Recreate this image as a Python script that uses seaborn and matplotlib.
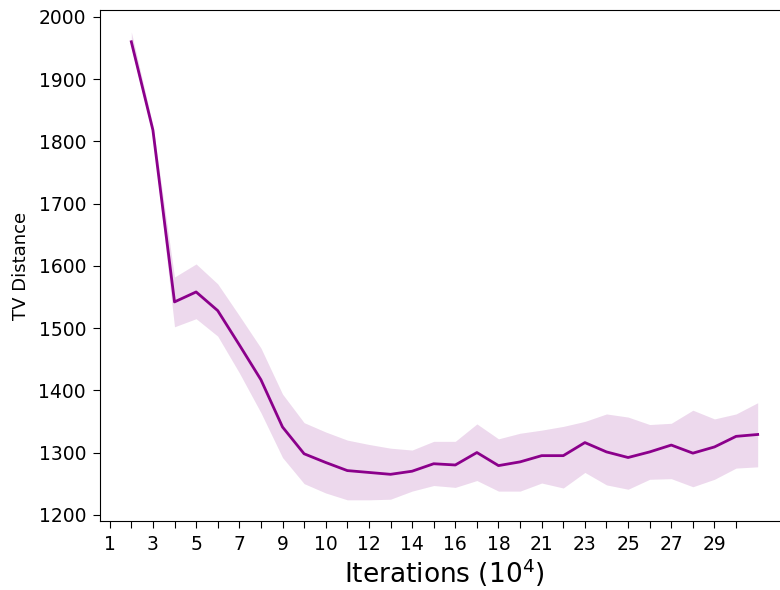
import matplotlib
matplotlib.use("Agg")
import matplotlib.pyplot as plt
import seaborn as sns
import numpy as np
import pandas as pd

iterations = list(range(1, 31))
mean_tv = [1960, 1818, 1542, 1558, 1528, 1473, 1417, 1341, 1298, 1284,
           1271, 1268, 1265, 1270, 1282, 1280, 1300, 1279, 1285, 1295,
           1295, 1316, 1301, 1292, 1301, 1312, 1299, 1309, 1326, 1329]
upper_tv = [1976, 1826, 1582, 1603, 1571, 1520, 1468, 1394, 1348, 1333,
            1320, 1313, 1307, 1304, 1318, 1318, 1346, 1322, 1331, 1336,
            1342, 1350, 1362, 1357, 1345, 1347, 1368, 1354, 1362, 1380]
lower_tv = [1950, 1810, 1502, 1515, 1487, 1428, 1364, 1292, 1250, 1235,
            1224, 1224, 1225, 1238, 1247, 1244, 1255, 1238, 1238, 1251,
            1243, 1268, 1248, 1241, 1257, 1258, 1245, 1257, 1275, 1277]
tick_positions = list(range(30))
tick_labels = ["1", "", "3", "", "5", "", "7", "", "9", "", "10", "", "12", "",
               "14", "", "16", "", "18", "", "21", "", "23", "", "25", "",
               "27", "", "29", ""]
yticks = [1200, 1300, 1400, 1500, 1600, 1700, 1800, 1900, 2000]

df = pd.DataFrame({"it": iterations, "tv": mean_tv})

fig = plt.figure(figsize=(7.8, 5.9), dpi=100)
ax = fig.add_axes([100/780, 69/590, 689/780, 511/590])
color = "darkmagenta"
ax.fill_between(iterations, lower_tv, upper_tv, color=color, alpha=0.15, linewidth=0)
sns.lineplot(data=df, x="it", y="tv", color=color, linewidth=2, ax=ax)

ax.set_xticks(tick_positions)
ax.set_xticklabels(tick_labels, fontsize=13.5)
ax.set_yticks(yticks)
ax.tick_params(axis="y", labelsize=13.5)
ax.tick_params(axis="both", length=5, pad=5)
ax.set_xlim(-0.45, 31.45)
ax.set_ylim(1190, 2011)
ax.set_xlabel("Iterations ($10^4$)", fontsize=19, labelpad=2)
ax.set_ylabel("TV Distance", fontsize=13, labelpad=6)

fig.savefig("out.png", dpi=100)
